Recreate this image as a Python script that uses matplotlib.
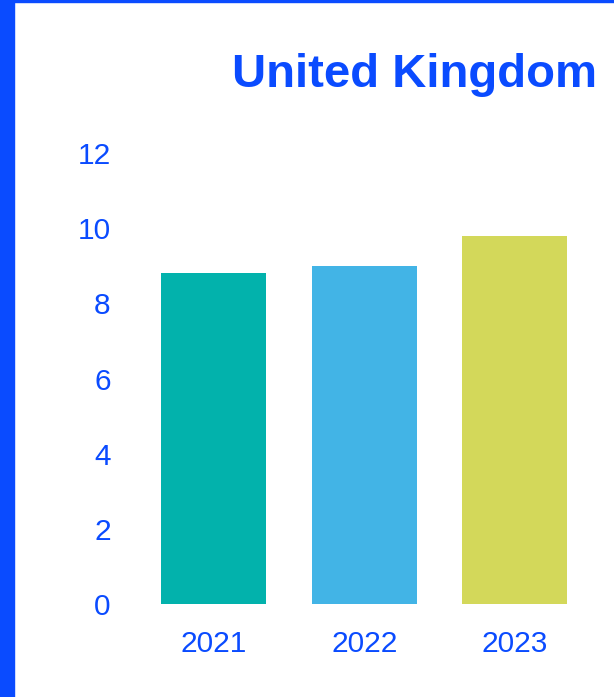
import matplotlib.pyplot as plt
from matplotlib.patches import Rectangle

# Values
years = ['2021', '2022', '2023']
values = [8.8, 9.0, 9.8]
colors = ['#02B2AC', '#42B4E6', '#D3D85A']
yticks = [0, 2, 4, 6, 8, 10, 12]

blue = '#0A4BFF'
plt.rcParams['font.family'] = ['Liberation Sans', 'DejaVu Sans']

fig = plt.figure(figsize=(6.14, 6.97), dpi=100)
ax = fig.add_axes([138.5 / 614, 1 - 604 / 697, 451.5 / 614, 451 / 697])

ax.bar(range(len(years)), values, width=0.7, color=colors)
ax.set_xlim(-0.5, 2.5)
ax.set_ylim(0, 12)
ax.set_xticks(range(len(years)))
ax.set_xticklabels(years)
ax.set_yticks(yticks)
ax.tick_params(axis='both', length=0, labelsize=21.5, labelcolor=blue)
ax.tick_params(axis='y', pad=20)
ax.tick_params(axis='x', pad=18.5)
for s in ax.spines.values():
    s.set_visible(False)

# Title
fig.text(597 / 614, 1 - 75 / 697, 'United Kingdom', ha='right', va='center',
         fontsize=34, fontweight='bold', color=blue)

# Border on the left and top edges
fig.patches.append(Rectangle((0, 0), 14 / 614, 1, transform=fig.transFigure,
                             color=blue, zorder=10))
fig.patches.append(Rectangle((0, 1 - 2 / 697), 1, 2 / 697, transform=fig.transFigure,
                             color=blue, zorder=10))

fig.savefig('out.png', dpi=100)
